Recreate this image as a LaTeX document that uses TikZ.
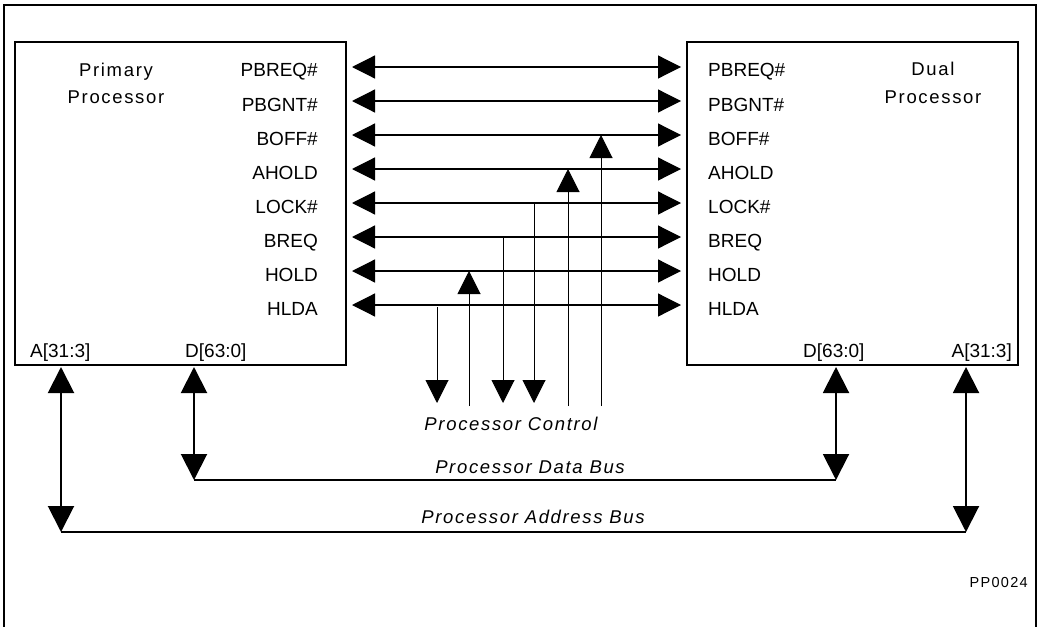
\documentclass[tikz,border=0pt]{standalone}
\usepackage{fontspec}
\setmainfont{Liberation Sans}
\newfontfamily\spc[LetterSpace=9]{Liberation Sans}
\usetikzlibrary{arrows.meta}
\tikzset{
  sig/.style={inner sep=0pt, font=\fontsize{19}{22}\selectfont},
  ttl/.style={inner sep=0pt, font=\spc\fontsize{18.5}{22}\selectfont},
  itl/.style={inner sep=0pt, font=\spc\itshape\fontsize{18.5}{22}\selectfont},
  pbox/.style={draw, line width=2pt, inner sep=0pt, minimum width=331pt, minimum height=323pt},
  tipA/.tip={Triangle[length=23pt,width=23pt]},
  tipB/.tip={Triangle[length=26pt,width=26pt]},
  harrow/.style={line width=1.2pt, tipA-tipA, shorten <=5pt, shorten >=5pt},
  ctl/.style={line width=1pt},
  busarrow/.style={line width=2pt, tipB-tipB},
  busline/.style={line width=2pt},
}
\begin{document}
\begin{tikzpicture}[x=1pt,y=-1pt]
\useasboundingbox (0,0) rectangle (1043,626);
\draw[line width=2pt] (4,627) -- (4,5) -- (1036,5) -- (1036,627);

\node[pbox] (prim) at (180.5,203.5) {};
\node[pbox] (dual) at (852.5,203.5) {};

\node[ttl, anchor=base] (pt1) at (116,76) {Primary};
\node[ttl, anchor=base] (pt2) at (116,103) {Processor};
\node[ttl, anchor=base] (dt1) at (933,75) {Dual};
\node[ttl, anchor=base] (dt2) at (933,103) {Processor};

\foreach \t [count=\i] in {PBREQ\#,PBGNT\#,BOFF\#,AHOLD,LOCK\#,BREQ,HOLD,HLDA} {
  \coordinate (h\i) at (516,{33+34*\i});
  \node[sig, anchor=base east] (L\i) at (318,{43+34*\i}) {\t};
  \node[sig, anchor=base west] (R\i) at (708,{43+34*\i}) {\t};
  \draw[harrow] (prim.east |- h\i) -- (dual.west |- h\i);
}

\node[sig, anchor=base west] (la) at (30,357) {A[31:3]};
\node[sig, anchor=base west] (ld) at (185,357) {D[63:0]};
\node[sig, anchor=base west] (rd) at (803,357) {D[63:0]};
\node[sig, anchor=base east] (ra) at (1012,357) {A[31:3]};

% processor control lines
\coordinate (k1) at (437,403);
\coordinate (k2) at (469,406);
\coordinate (k3) at (503,403);
\coordinate (k4) at (534,403);
\coordinate (k5) at (568,406);
\coordinate (k6) at (601,406);
\draw[ctl,-tipA] ([yshift=-2pt]k1 |- h8) -- (k1);
\draw[ctl,-tipA] (k2) -- (k2 |- h7);
\draw[ctl,-tipA] (k3 |- h6) -- (k3);
\draw[ctl,-tipA] (k4 |- h5) -- (k4);
\draw[ctl,-tipA] (k5) -- (k5 |- h4);
\draw[ctl,-tipA] (k6) -- (k6 |- h3);
\node[itl, anchor=base] (pc) at (511,430) {Processor Control};

% buses
\coordinate (dL) at (194,480);
\coordinate (dR) at (836,480);
\coordinate (aL) at (61,532);
\coordinate (aR) at (966,532);
\draw[busarrow] ([yshift=-1pt]dL |- prim.south) -- (dL);
\draw[busarrow] ([yshift=-1pt]dR |- dual.south) -- (dR);
\draw[busarrow] ([yshift=-1pt]aL |- prim.south) -- (aL);
\draw[busarrow] ([yshift=-1pt]aR |- dual.south) -- (aR);
\draw[busline] (dL) -- (dR);
\draw[busline] (aL) -- (aR);
\node[itl, anchor=base] (db) at (530,473) {Processor Data Bus};
\node[itl, anchor=base] (ab) at (533,523) {Processor Address Bus};

\node[inner sep=0pt, anchor=base east, font=\spc\fontsize{14.5}{17}\selectfont] (pp) at (1028,587) {PP0024};
\end{tikzpicture}
\end{document}
